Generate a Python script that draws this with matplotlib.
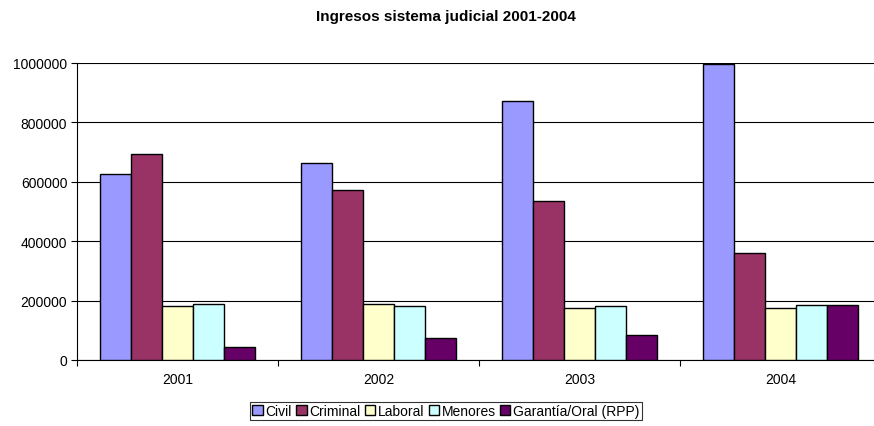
import numpy as np
import matplotlib
matplotlib.use('Agg')
import matplotlib.pyplot as plt

plt.rcParams["font.family"] = ["Liberation Sans", "DejaVu Sans"]

years = ["2001", "2002", "2003", "2004"]
series = ["Civil", "Criminal", "Laboral", "Menores", "Garantía/Oral (RPP)"]
civil = [627000, 663000, 872000, 997000]
criminal = [692000, 573000, 535000, 359000]
laboral = [183000, 190000, 176000, 176000]
menores = [187000, 183000, 181000, 186000]
garantia = [44000, 73000, 84000, 186000]
colors = ["#9999FF", "#993366", "#FFFFCC", "#CCFFFF", "#660066"]

fig = plt.figure(figsize=(8.74, 4.27), dpi=100)
ax = fig.add_axes([77 / 874, 66 / 427, 804 / 874, 297 / 427])

# cada categoria ocupa 1 unidad, 5 barras con hueco a los lados
width = 0.154
gap = (1 - 5 * width) / 2
x = np.arange(len(years))
for i, (vals, name) in enumerate(zip([civil, criminal, laboral, menores, garantia], series)):
    ax.bar(x + gap + i * width, vals, width, align="edge", color=colors[i],
           edgecolor="black", linewidth=1.0, label=name, zorder=3)

ax.set_xlim(0, len(years))
ax.set_ylim(0, 1000000)
ax.set_yticks(range(0, 1000001, 200000))
ax.set_yticklabels([str(v) for v in range(0, 1000001, 200000)], fontsize=10)
ax.yaxis.grid(True, color="black", linewidth=0.8, zorder=0)

ax.set_xticks(np.arange(0, len(years) + 1))
ax.set_xticklabels([])
ax.set_xticks(x + 0.5, minor=True)
ax.set_xticklabels(years, minor=True, fontsize=10)
ax.tick_params(axis="x", which="minor", length=0, pad=9)
ax.tick_params(axis="x", which="major", length=4, direction="out", color="black")
ax.tick_params(axis="y", length=4, direction="out", pad=3)

for s in ["top", "right"]:
    ax.spines[s].set_visible(False)
ax.spines["left"].set_color("black")
ax.spines["bottom"].set_color("black")

fig.text(446 / 874, 1 - 17 / 427, "Ingresos sistema judicial 2001-2004",
         ha="center", va="center", fontsize=11, fontweight="bold")

leg = fig.legend(loc="center", bbox_to_anchor=(446 / 874, 1 - 412 / 427), ncol=5,
                 fontsize=10, frameon=True, fancybox=False, handlelength=0.75,
                 handleheight=0.75, handletextpad=0.2, columnspacing=0.3,
                 borderpad=0.15, borderaxespad=0)
leg.get_frame().set_edgecolor("black")
leg.get_frame().set_linewidth(0.8)

fig.savefig("out.png", dpi=100)
